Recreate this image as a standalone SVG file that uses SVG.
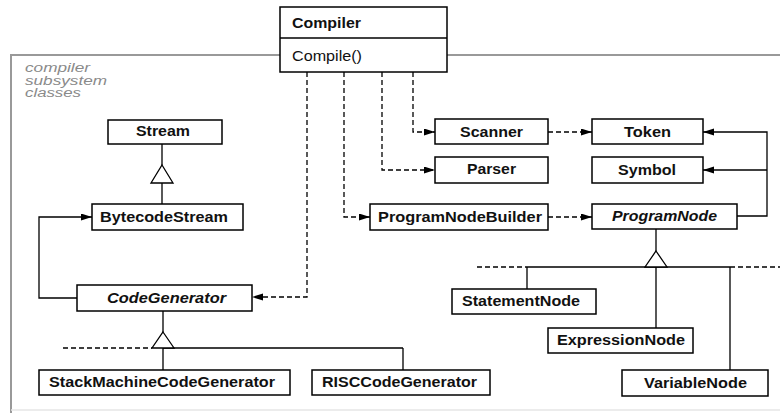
<svg xmlns="http://www.w3.org/2000/svg" width="780" height="415" viewBox="0 0 780 415">
<defs>
<marker id="arr" markerUnits="userSpaceOnUse" markerWidth="12" markerHeight="8" refX="11" refY="3.5" orient="auto">
<path d="M0,0 L11,3.5 L0,7 z" fill="#000" stroke="none"/>
</marker>
<style>
.box{fill:#fff;stroke:#000;stroke-width:1.5}
.lbl{font-family:"Liberation Sans",Arial,sans-serif;font-size:14px;font-weight:bold;fill:#111;text-anchor:middle}
.it{font-style:italic}
.reg{font-weight:normal}
.ln{fill:none;stroke:#000;stroke-width:1.3}
.dash{fill:none;stroke:#000;stroke-width:1.3;stroke-dasharray:5 3}
.tri{fill:#fff;stroke:#000;stroke-width:1.3}
.note{font-family:"Liberation Sans",Arial,sans-serif;font-size:12px;font-style:italic;fill:#8a8a8a}
</style>
</defs>
<rect width="780" height="415" fill="#fff"/>
<g id="frame">
<path d="M11,413 L11,55 L780,55" fill="none" stroke="#999" stroke-width="2"/>
<path d="M11,410 L780,410" fill="none" stroke="#e6e6e6" stroke-width="1.5"/>
<text class="note" x="25" y="72" textLength="65" lengthAdjust="spacingAndGlyphs">compiler</text>
<text class="note" x="25" y="84.5" textLength="82" lengthAdjust="spacingAndGlyphs">subsystem</text>
<text class="note" x="25" y="97" textLength="56" lengthAdjust="spacingAndGlyphs">classes</text>
</g>
<g id="connectors">
<path class="dash" d="M413,72 V132 H435" marker-end="url(#arr)"/>
<path class="dash" d="M382,72 V170 H435" marker-end="url(#arr)"/>
<path class="dash" d="M344,72 V217 H370" marker-end="url(#arr)"/>
<path class="dash" d="M307,72 V297 H252" marker-end="url(#arr)"/>
<path class="dash" d="M548,132 H592" marker-end="url(#arr)"/>
<path class="dash" d="M548,217 H592" marker-end="url(#arr)"/>
<path class="ln" d="M737,216 H767 V132 H703" marker-end="url(#arr)"/>
<path class="ln" d="M767,170 H703" marker-end="url(#arr)"/>
<path class="ln" d="M77,298 H39 V217 H92" marker-end="url(#arr)"/>
<path class="ln" d="M162,144 V165 M162,183 V204"/>
<path class="tri" d="M162,165 L173,183 L151,183 z"/>
<path class="ln" d="M163,311 V332 M163,348 H403 M163,348 V370 M403,348 V370"/>
<path class="dash" d="M63,348 H152"/>
<path class="tri" d="M163,332 L174,348 L152,348 z"/>
<path class="ln" d="M656,229 V251 M527,267 H730 M527,267 V289 M656,267 V328 M730,267 V370"/>
<path class="dash" d="M477,267 H527 M730,267 H780"/>
<path class="tri" d="M656,251 L667,267 L645,267 z"/>
</g>
<g id="compiler">
<rect class="box" x="280" y="7" width="167" height="65"/>
<line x1="280" y1="38" x2="447" y2="38" stroke="#000" stroke-width="1.5"/>
<text class="lbl" x="292" y="28" style="text-anchor:start" textLength="69" lengthAdjust="spacingAndGlyphs">Compiler</text>
<text class="lbl reg" x="292" y="61" style="text-anchor:start" textLength="70" lengthAdjust="spacingAndGlyphs">Compile()</text>
</g>
<g id="stream">
<rect class="box" x="108" y="120" width="114" height="24"/>
<text class="lbl" x="163" y="136" textLength="54" lengthAdjust="spacingAndGlyphs">Stream</text>
</g>
<g id="bytecodestream">
<rect class="box" x="92" y="204" width="151" height="26"/>
<text class="lbl" x="164" y="222" textLength="128" lengthAdjust="spacingAndGlyphs">BytecodeStream</text>
</g>
<g id="codegenerator">
<rect class="box" x="77" y="285" width="175" height="26"/>
<text class="lbl it" x="166.5" y="303" textLength="119" lengthAdjust="spacingAndGlyphs">CodeGenerator</text>
</g>
<g id="stackmachinecodegenerator">
<rect class="box" x="39" y="370" width="251" height="25"/>
<text class="lbl" x="162" y="387" textLength="226" lengthAdjust="spacingAndGlyphs">StackMachineCodeGenerator</text>
</g>
<g id="risccodegenerator">
<rect class="box" x="312" y="370" width="178" height="25"/>
<text class="lbl" x="399.5" y="387" textLength="155" lengthAdjust="spacingAndGlyphs">RISCCodeGenerator</text>
</g>
<g id="scanner">
<rect class="box" x="435" y="119" width="113" height="25"/>
<text class="lbl" x="491.5" y="137" textLength="63" lengthAdjust="spacingAndGlyphs">Scanner</text>
</g>
<g id="parser">
<rect class="box" x="435" y="157" width="113" height="26"/>
<text class="lbl" x="491.5" y="174" textLength="49" lengthAdjust="spacingAndGlyphs">Parser</text>
</g>
<g id="token">
<rect class="box" x="592" y="119" width="111" height="25"/>
<text class="lbl" x="647.5" y="137" textLength="47" lengthAdjust="spacingAndGlyphs">Token</text>
</g>
<g id="symbol">
<rect class="box" x="592" y="157" width="111" height="26"/>
<text class="lbl" x="647" y="175" textLength="58" lengthAdjust="spacingAndGlyphs">Symbol</text>
</g>
<g id="programnodebuilder">
<rect class="box" x="370" y="204" width="178" height="26"/>
<text class="lbl" x="460" y="222" textLength="164" lengthAdjust="spacingAndGlyphs">ProgramNodeBuilder</text>
</g>
<g id="programnode">
<rect class="box" x="592" y="204" width="145" height="25"/>
<text class="lbl it" x="664.5" y="221" textLength="105" lengthAdjust="spacingAndGlyphs">ProgramNode</text>
</g>
<g id="statementnode">
<rect class="box" x="452" y="289" width="144" height="25"/>
<text class="lbl" x="521" y="306" textLength="118" lengthAdjust="spacingAndGlyphs">StatementNode</text>
</g>
<g id="expressionnode">
<rect class="box" x="548" y="328" width="145" height="25"/>
<text class="lbl" x="621" y="345" textLength="128" lengthAdjust="spacingAndGlyphs">ExpressionNode</text>
</g>
<g id="variablenode">
<rect class="box" x="622" y="370" width="146" height="26"/>
<text class="lbl" x="695.5" y="388" textLength="103" lengthAdjust="spacingAndGlyphs">VariableNode</text>
</g>
</svg>
